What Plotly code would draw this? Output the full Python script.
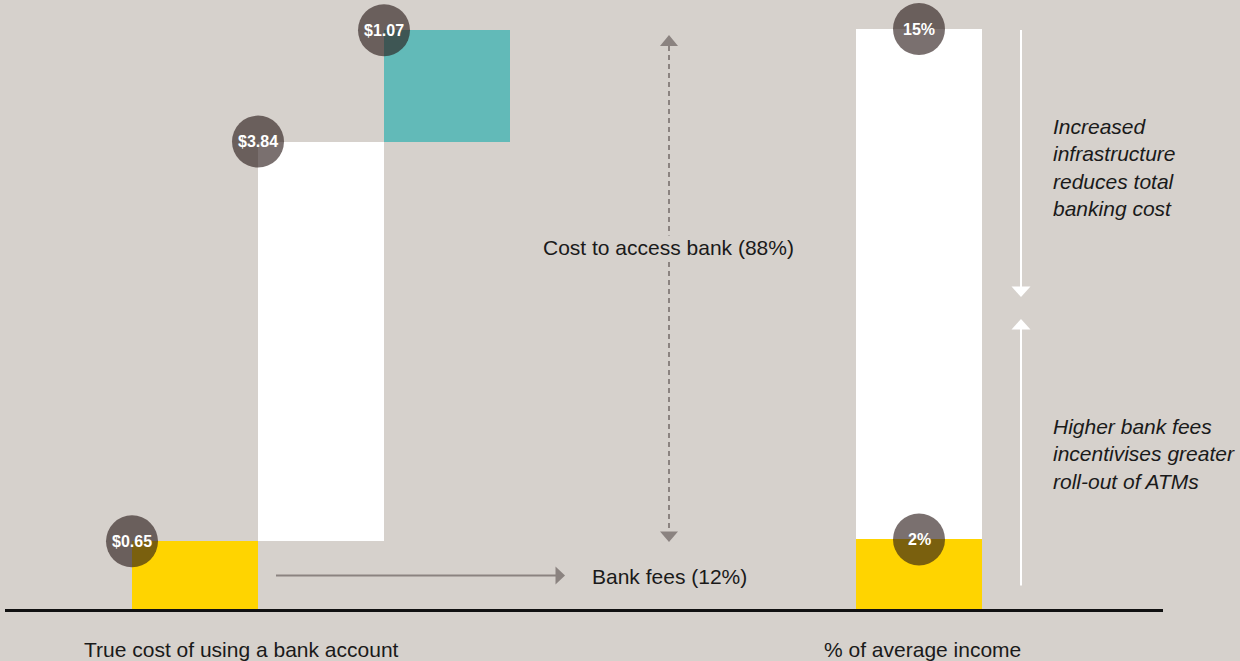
import plotly.graph_objects as go

# ---------------- data ----------------
cost_steps = ["Bank fees", "Cost to access bank", "Infrastructure"]
cost_values = [0.65, 3.84, 1.07]           # US$ increments of the waterfall
cost_labels = ["$0.65", "$3.84", "$1.07"]

income_parts = ["Bank fees", "Total banking cost"]
income_values = [1.8, 13.2]                 # % of average income (stacked)
income_labels = ["2%", "15%"]

# ---------------- style / layout constants ----------------
W, H = 1240, 661
BG = "#d6d1cc"
YELLOW = "#ffd400"
WHITE = "#ffffff"
TEAL = "#62bab8"
CIRCLE = "rgba(40,25,22,0.62)"
GREY = "#8b8380"
TEXT = "#1a1a1a"
FONT = "Arial"
step_colors = [YELLOW, WHITE, TEAL]
income_colors = [YELLOW, WHITE]

PX_PER_X = 126.0                    # one bar width in pixels
X0_PIX = 195.0                      # pixel centre of x = 0
left_pos = [0, 1, 2]
right_pos = 5.746
BASE_PIX = 609.0                    # pixel row of value 0
Y_SCALE = 104.1                     # px per US$
Y2_SCALE = 580.0 / 15.0             # px per % point

def xp(p):
    return p / W

def yp(p):
    return 1 - p / H

# ---------------- waterfall bases ----------------
bases = []
acc = 0.0
for v in cost_values:
    bases.append(acc)
    acc += v
tops = [b + v for b, v in zip(bases, cost_values)]

inc_bases = []
acc = 0.0
for v in income_values:
    inc_bases.append(acc)
    acc += v
inc_tops = [b + v for b, v in zip(inc_bases, income_values)]

fig = go.Figure()

fig.add_trace(go.Bar(
    x=left_pos, y=cost_values, base=bases, width=1,
    marker=dict(color=step_colors, line=dict(width=0)),
    hoverinfo="skip", showlegend=False, yaxis="y",
))
fig.add_trace(go.Bar(
    x=[right_pos] * len(income_values), y=income_values, base=inc_bases, width=1,
    marker=dict(color=income_colors, line=dict(width=0)),
    hoverinfo="skip", showlegend=False, yaxis="y2",
))

# value bubbles
fig.add_trace(go.Scatter(
    x=[p - 0.5 for p in left_pos], y=tops, mode="markers",
    marker=dict(size=52, color=CIRCLE, line=dict(width=0)),
    hoverinfo="skip", showlegend=False, yaxis="y", cliponaxis=False,
))
fig.add_trace(go.Scatter(
    x=[right_pos] * len(income_values), y=inc_tops, mode="markers",
    marker=dict(size=52, color=CIRCLE, line=dict(width=0)),
    hoverinfo="skip", showlegend=False, yaxis="y2", cliponaxis=False,
))

shapes = []
# baseline
shapes.append(dict(type="line", xref="paper", yref="paper",
                   x0=xp(5), x1=xp(1163), y0=yp(610.5), y1=yp(610.5),
                   line=dict(color="#111111", width=3)))
# dashed vertical arrow
shapes.append(dict(type="line", xref="paper", yref="paper",
                   x0=xp(669), x1=xp(669), y0=yp(46), y1=yp(532),
                   line=dict(color=GREY, width=2, dash="5px,4px")))

def tri(cx, tip_y, base_y, half, color):
    return dict(type="path", xref="paper", yref="paper",
                path=f"M {xp(cx - half)} {yp(base_y)} L {xp(cx + half)} {yp(base_y)} L {xp(cx)} {yp(tip_y)} Z",
                fillcolor=color, line=dict(width=0))

def tri_h(cy, tip_x, base_x, half, color):
    return dict(type="path", xref="paper", yref="paper",
                path=f"M {xp(base_x)} {yp(cy - half)} L {xp(base_x)} {yp(cy + half)} L {xp(tip_x)} {yp(cy)} Z",
                fillcolor=color, line=dict(width=0))

shapes.append(tri(669, 35, 46, 9, GREY))
shapes.append(tri(669, 542, 531.5, 9, GREY))
# horizontal arrow
shapes.append(dict(type="line", xref="paper", yref="paper",
                   x0=xp(276), x1=xp(557), y0=yp(575.5), y1=yp(575.5),
                   line=dict(color=GREY, width=2)))
shapes.append(tri_h(575.5, 565, 555.5, 9, GREY))
# white arrows on the right
shapes.append(dict(type="line", xref="paper", yref="paper",
                   x0=xp(1021), x1=xp(1021), y0=yp(30), y1=yp(288),
                   line=dict(color="white", width=2)))
shapes.append(tri(1021, 297, 286.5, 9.5, "white"))
shapes.append(dict(type="line", xref="paper", yref="paper",
                   x0=xp(1021), x1=xp(1021), y0=yp(328), y1=yp(585.5),
                   line=dict(color="white", width=2)))
shapes.append(tri(1021, 319, 329.5, 9.5, "white"))

annotations = [
    dict(text="Cost to access bank (88%)", xref="paper", yref="paper",
         x=xp(668.5), y=yp(247), xanchor="center", yanchor="middle",
         showarrow=False, bgcolor=BG, borderpad=0,
         font=dict(family=FONT, size=21, color=TEXT)),
    dict(text="Bank fees (12%)", xref="paper", yref="paper",
         x=xp(590), y=yp(576), xanchor="left", yanchor="middle",
         showarrow=False, font=dict(family=FONT, size=21, color=TEXT)),
    dict(text="True cost of using a bank account", xref="paper", yref="paper",
         x=xp(82), y=yp(649), xanchor="left", yanchor="middle",
         showarrow=False, font=dict(family=FONT, size=21, color=TEXT)),
    dict(text="% of average income", xref="paper", yref="paper",
         x=xp(822), y=yp(649), xanchor="left", yanchor="middle",
         showarrow=False, font=dict(family=FONT, size=21, color=TEXT)),
    dict(text="<i>Increased<br>infrastructure<br>reduces total<br>banking cost</i>",
         xref="paper", yref="paper", x=xp(1051), y=yp(167),
         xanchor="left", yanchor="middle", align="left", showarrow=False,
         font=dict(family=FONT, size=21, color=TEXT)),
    dict(text="<i>Higher bank fees<br>incentivises greater<br>roll-out of ATMs</i>",
         xref="paper", yref="paper", x=xp(1051), y=yp(454),
         xanchor="left", yanchor="middle", align="left", showarrow=False,
         font=dict(family=FONT, size=21, color=TEXT)),
]

# bubble labels, tied to the data values
for p, t, lab in zip(left_pos, tops, cost_labels):
    annotations.append(dict(text=f"<b>{lab}</b>", x=p - 0.5, y=t, xref="x", yref="y",
                            xanchor="center", yanchor="middle", showarrow=False,
                            font=dict(family=FONT, size=16, color="white")))
for t, lab in zip(inc_tops, income_labels):
    annotations.append(dict(text=f"<b>{lab}</b>", x=right_pos, y=t, xref="x", yref="y2",
                            xanchor="center", yanchor="middle", showarrow=False,
                            font=dict(family=FONT, size=16, color="white")))

x_range = [(0 - X0_PIX) / PX_PER_X, (W - X0_PIX) / PX_PER_X]
y_range = [-(H - BASE_PIX) / Y_SCALE, BASE_PIX / Y_SCALE]
y2_range = [-(H - BASE_PIX) / Y2_SCALE, BASE_PIX / Y2_SCALE]

fig.update_layout(
    width=W, height=H, autosize=False,
    margin=dict(l=0, r=0, t=0, b=0, pad=0),
    paper_bgcolor=BG, plot_bgcolor=BG,
    barmode="overlay", bargap=0,
    xaxis=dict(range=x_range, visible=False, fixedrange=True, domain=[0, 1]),
    yaxis=dict(range=y_range, visible=False, fixedrange=True, domain=[0, 1]),
    yaxis2=dict(range=y2_range, visible=False, fixedrange=True,
                overlaying="y", anchor="x"),
    shapes=shapes, annotations=annotations,
    showlegend=False,
)

fig.write_html("out.html")
